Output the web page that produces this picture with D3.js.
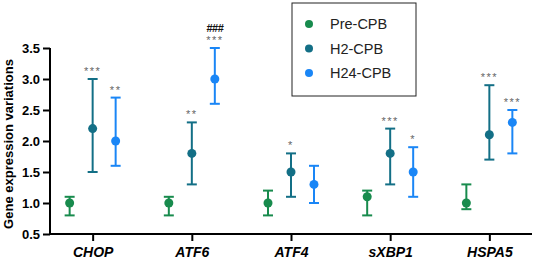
<!DOCTYPE html>
<html>
<head>
<meta charset="utf-8">
<script src="https://cdn.jsdelivr.net/npm/d3@7"></script>
<style>
  html, body { margin: 0; padding: 0; background: #fff; }
  svg { display: block; font-family: "Liberation Sans", Arial, sans-serif; }
</style>
</head>
<body>
<div id="chart"></div>
<script>
// gene expression, three time points, mean with error range
const genes = ["CHOP", "ATF6", "ATF4", "sXBP1", "HSPA5"];
const seriesNames = ["Pre-CPB", "H2-CPB", "H24-CPB"];
const seriesColors = ["#188b4d", "#136f86", "#1a86f6"];

const preMean = [1.0, 1.0, 1.0, 1.1, 1.0];
const preLow  = [0.8, 0.8, 0.8, 0.8, 0.9];
const preHigh = [1.1, 1.1, 1.2, 1.2, 1.3];

const h2Mean = [2.2, 1.8, 1.5, 1.8, 2.1];
const h2Low  = [1.5, 1.3, 1.1, 1.3, 1.7];
const h2High = [3.0, 2.3, 1.8, 2.2, 2.9];

const h24Mean = [2.0, 3.0, 1.3, 1.5, 2.3];
const h24Low  = [1.6, 2.6, 1.0, 1.1, 1.8];
const h24High = [2.7, 3.5, 1.6, 1.9, 2.5];

const h2Stars  = ["***", "**", "*", "***", "***"];
const h24Stars = ["**", "***", "", "*", "***"];
const h24Hash  = ["", "###", "", "", ""];

const yTicks = [0.5, 1.0, 1.5, 2.0, 2.5, 3.0, 3.5];

const W = 536, H = 259;

const series = [
  { name: seriesNames[0], mean: preMean, low: preLow, high: preHigh, stars: null, hash: null },
  { name: seriesNames[1], mean: h2Mean, low: h2Low, high: h2High, stars: h2Stars, hash: null },
  { name: seriesNames[2], mean: h24Mean, low: h24Low, high: h24High, stars: h24Stars, hash: h24Hash },
];

const svg = d3.select("#chart").append("svg")
  .attr("width", W).attr("height", H);

const y = d3.scaleLinear().domain([0.5, 3.5]).range([234, 48]);
const x = d3.scalePoint().domain(genes).range([50, 532]).padding(0.43);
const offset = d3.scalePoint().domain(seriesNames).range([-23, 23]);
const color = d3.scaleOrdinal().domain(seriesNames).range(seriesColors);

// axes
const yAxis = svg.append("g")
  .attr("transform", "translate(50,0)")
  .call(d3.axisLeft(y).tickValues(yTicks).tickFormat(d3.format(".1f")).tickSize(7).tickPadding(3));
yAxis.select(".domain").attr("stroke", "#000").attr("stroke-width", 2)
  .attr("d", `M0,${y(0.5)}V${y(3.5)}`);
yAxis.selectAll(".tick line").attr("stroke", "#000").attr("stroke-width", 2);
yAxis.selectAll(".tick text")
  .attr("font-size", 13).attr("font-weight", "bold").attr("fill", "#000")
  .attr("font-family", "Liberation Sans, Arial, sans-serif");

const xAxis = svg.append("g")
  .attr("transform", `translate(0,${y(0.5)})`)
  .call(d3.axisBottom(x).tickSize(7).tickPadding(6));
xAxis.select(".domain").attr("stroke", "#000").attr("stroke-width", 2)
  .attr("d", "M50,0H532");
xAxis.selectAll(".tick line").attr("stroke", "#000").attr("stroke-width", 2);
xAxis.selectAll(".tick text")
  .attr("font-size", 14).attr("font-weight", "bold").attr("font-style", "italic")
  .attr("fill", "#000").attr("font-family", "Liberation Sans, Arial, sans-serif");

svg.append("text")
  .attr("transform", `translate(13,${(y(0.5) + y(3.5)) / 2 + 3}) rotate(-90)`)
  .attr("text-anchor", "middle")
  .attr("font-size", 13).attr("font-weight", "bold")
  .text("Gene expression variations");

// error bars + points
const capW = 5;
series.forEach((s) => {
  const g = svg.append("g").attr("class", "series");
  const c = color(s.name);
  genes.forEach((gene, i) => {
    const cx = x(gene) + offset(s.name);
    g.append("line")
      .attr("x1", cx).attr("x2", cx)
      .attr("y1", y(s.low[i])).attr("y2", y(s.high[i]))
      .attr("stroke", c).attr("stroke-width", 2);
    [s.low[i], s.high[i]].forEach((v) => {
      g.append("line")
        .attr("x1", cx - capW).attr("x2", cx + capW)
        .attr("y1", y(v)).attr("y2", y(v))
        .attr("stroke", c).attr("stroke-width", 2);
    });
    g.append("circle")
      .attr("cx", cx).attr("cy", y(s.mean[i])).attr("r", 4.5)
      .attr("fill", c);
    if (s.stars && s.stars[i]) {
      g.append("text")
        .attr("x", cx).attr("y", y(s.high[i]) - 4)
        .attr("text-anchor", "middle")
        .attr("font-size", 11).attr("fill", "#666")
        .attr("letter-spacing", 1.5)
        .text(s.stars[i]);
    }
    if (s.hash && s.hash[i]) {
      g.append("text")
        .attr("x", cx).attr("y", y(s.high[i]) - 16)
        .attr("text-anchor", "middle")
        .attr("font-size", 11).attr("font-weight", "bold").attr("fill", "#111")
        .attr("letter-spacing", -0.5)
        .text(s.hash[i]);
    }
  });
});

// legend
const legend = svg.append("g").attr("transform", "translate(292,3)");
legend.append("rect")
  .attr("x", 0).attr("y", 0).attr("width", 124).attr("height", 93)
  .attr("fill", "#fff").attr("stroke", "#222").attr("stroke-width", 1);
const rows = legend.selectAll("g.row").data(seriesNames).enter().append("g")
  .attr("class", "row")
  .attr("transform", (d, i) => `translate(0,${21 + i * 24.5})`);
rows.append("circle").attr("cx", 17).attr("cy", 0).attr("r", 4).attr("fill", (d) => color(d));
rows.append("text").attr("x", 38).attr("y", 5)
  .attr("font-size", 14.5).attr("fill", "#222").text((d) => d);
</script>
</body>
</html>
